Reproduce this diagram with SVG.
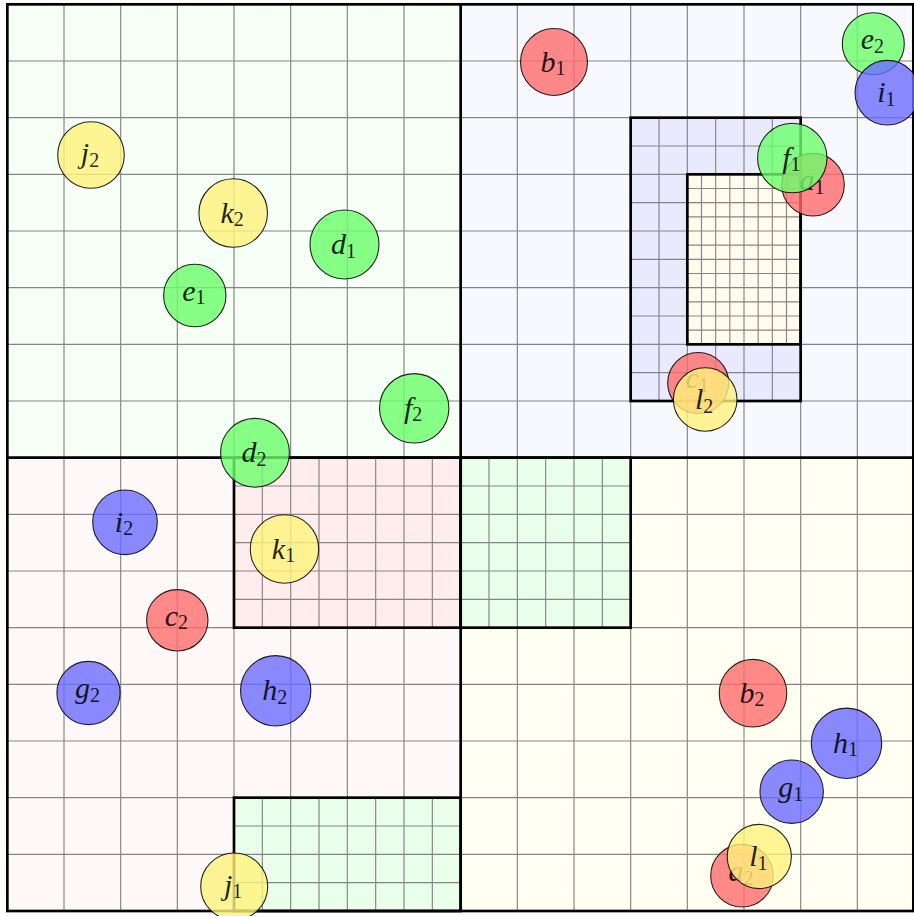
<svg xmlns="http://www.w3.org/2000/svg" width="914" height="916" viewBox="0 0 914 916">
<style>
.grid{fill:none;stroke:#858585;stroke-width:1.15}
.thick{fill:none;stroke:#000;stroke-width:2.7}
.n circle{stroke:#000;stroke-width:1.1;fill-opacity:0.8;stroke-opacity:0.85}
.red circle{fill:#ff6b6b}
.green circle{fill:#6bff6b}
.blue circle{fill:#6b6bff}
.yellow circle{fill:#fff27c}
.n text{font-family:"Liberation Serif","DejaVu Serif",serif;font-size:30px;font-style:italic;fill:#000;opacity:0.85;text-anchor:middle}
.n text .s{font-style:normal;font-size:20px}
</style>
<rect width="914" height="916" fill="#ffffff"/>
<g id="background">
<rect x="7.33" y="4.33" width="453.34" height="453.34" fill="#f6fff6"/>
<rect x="460.67" y="4.33" width="453.33" height="453.34" fill="#f8f8ff"/>
<rect x="7.33" y="457.67" width="453.34" height="453.33" fill="#fff8f8"/>
<rect x="460.67" y="457.67" width="453.33" height="453.33" fill="#fffff2"/>
<rect x="630.67" y="117.67" width="170" height="283.33" fill="#eaeafe"/>
<rect x="687.33" y="174.33" width="113.34" height="170" fill="#fffcee"/>
<rect x="234" y="457.67" width="226.67" height="170" fill="#ffeded"/>
<rect x="460.67" y="457.67" width="170" height="170" fill="#eaffea"/>
<rect x="234" y="797.67" width="226.67" height="113.33" fill="#eaffea"/>
</g>
<g id="grid" class="grid">
<path d="M64 4.33V911M120.67 4.33V911M177.33 4.33V911M234 4.33V911M290.67 4.33V911M347.33 4.33V911M404 4.33V911M517.33 4.33V911M574 4.33V911M630.67 4.33V911M687.33 4.33V911M744 4.33V911M800.67 4.33V911M857.33 4.33V911"/>
<path d="M7.33 61H914M7.33 117.67H914M7.33 174.33H914M7.33 231H914M7.33 287.67H914M7.33 344.33H914M7.33 401H914M7.33 514.33H914M7.33 571H914M7.33 627.67H914M7.33 684.33H914M7.33 741H914M7.33 797.67H914M7.33 854.33H914"/>
<path d="M659 117.67V401M715.67 117.67V401M772.33 117.67V401M630.67 146H800.67M630.67 202.67H800.67M630.67 259.33H800.67M630.67 316H800.67M630.67 372.67H800.67"/>
<path d="M701.5 174.33V344.33M729.83 174.33V344.33M758.17 174.33V344.33M786.5 174.33V344.33M687.33 188.5H800.67M687.33 216.83H800.67M687.33 245.17H800.67M687.33 273.5H800.67M687.33 301.83H800.67M687.33 330.17H800.67"/>
<path d="M262.33 457.67V627.67M319 457.67V627.67M375.67 457.67V627.67M432.33 457.67V627.67M489 457.67V627.67M545.67 457.67V627.67M602.33 457.67V627.67M234 486H630.67M234 542.67H630.67M234 599.33H630.67"/>
<path d="M262.33 797.67V911M319 797.67V911M375.67 797.67V911M432.33 797.67V911M234 826H460.67M234 882.67H460.67"/>
</g>
<g id="frames" class="thick">
<rect x="7.33" y="4.33" width="906" height="906.67"/>
<path d="M460.67 4.33V911M7.33 457.67H914"/>
<rect x="630.67" y="117.67" width="170" height="283.33"/>
<rect x="687.33" y="174.33" width="113.34" height="170"/>
<rect x="234" y="457.67" width="226.67" height="170"/>
<rect x="460.67" y="457.67" width="170" height="170"/>
<rect x="234" y="797.67" width="226.67" height="113.33"/>
</g>
<g id="connectors"></g>
<g id="nodes">
<g id="a1" class="n red"><circle cx="813" cy="184.7" r="31.3"/><text x="812" y="190">a<tspan class="s" dy="3.5">1</tspan></text></g>
<g id="a2" class="n red"><circle cx="742" cy="875.7" r="31.3"/><text x="741" y="881">a<tspan class="s" dy="3.5">2</tspan></text></g>
<g id="b1" class="n red"><circle cx="554" cy="62" r="33.5"/><text x="553" y="71.5">b<tspan class="s" dy="3.5">1</tspan></text></g>
<g id="b2" class="n red"><circle cx="753" cy="693.2" r="33.8"/><text x="752" y="702.7">b<tspan class="s" dy="3.5">2</tspan></text></g>
<g id="c1" class="n red"><circle cx="698.2" cy="383" r="30.5"/><text x="697.2" y="388.3">c<tspan class="s" dy="3.5">1</tspan></text></g>
<g id="c2" class="n red"><circle cx="177.3" cy="620.3" r="30.7"/><text x="176.3" y="625.6">c<tspan class="s" dy="3.5">2</tspan></text></g>
<g id="d1" class="n green"><circle cx="344.5" cy="244.5" r="34.5"/><text x="343.5" y="254">d<tspan class="s" dy="3.5">1</tspan></text></g>
<g id="d2" class="n green"><circle cx="255" cy="452.8" r="34.4"/><text x="254" y="462.3">d<tspan class="s" dy="3.5">2</tspan></text></g>
<g id="e1" class="n green"><circle cx="194.8" cy="295.5" r="31.2"/><text x="193.8" y="300.8">e<tspan class="s" dy="3.5">1</tspan></text></g>
<g id="e2" class="n green"><circle cx="873.3" cy="43.7" r="31"/><text x="872.3" y="49">e<tspan class="s" dy="3.5">2</tspan></text></g>
<g id="f1" class="n green"><circle cx="792.3" cy="158" r="34.7"/><text x="791.3" y="167.5">f<tspan class="s" dy="3.5">1</tspan></text></g>
<g id="f2" class="n green"><circle cx="414.2" cy="408.3" r="34.7"/><text x="413.2" y="417.8">f<tspan class="s" dy="3.5">2</tspan></text></g>
<g id="g1" class="n blue"><circle cx="791.7" cy="791.7" r="31.7"/><text x="790.7" y="797">g<tspan class="s" dy="3.5">1</tspan></text></g>
<g id="g2" class="n blue"><circle cx="88.5" cy="693" r="31.6"/><text x="87.5" y="698.3">g<tspan class="s" dy="3.5">2</tspan></text></g>
<g id="h1" class="n blue"><circle cx="846.5" cy="743.3" r="35.2"/><text x="845.5" y="752.8">h<tspan class="s" dy="3.5">1</tspan></text></g>
<g id="h2" class="n blue"><circle cx="275.7" cy="690.8" r="35.2"/><text x="274.7" y="700.3">h<tspan class="s" dy="3.5">2</tspan></text></g>
<g id="i1" class="n blue"><circle cx="887.3" cy="92.7" r="32.3"/><text x="886.3" y="102.2">i<tspan class="s" dy="3.5">1</tspan></text></g>
<g id="i2" class="n blue"><circle cx="125" cy="522.3" r="32.3"/><text x="124" y="531.8">i<tspan class="s" dy="3.5">2</tspan></text></g>
<g id="j1" class="n yellow"><circle cx="234.2" cy="886.5" r="33.5"/><text x="233.2" y="894.8">j<tspan class="s" dy="3.5">1</tspan></text></g>
<g id="j2" class="n yellow"><circle cx="91" cy="155" r="33.3"/><text x="90" y="163.3">j<tspan class="s" dy="3.5">2</tspan></text></g>
<g id="k1" class="n yellow"><circle cx="284.5" cy="549" r="34.2"/><text x="283.5" y="558.5">k<tspan class="s" dy="3.5">1</tspan></text></g>
<g id="k2" class="n yellow"><circle cx="233.2" cy="213" r="34.3"/><text x="232.2" y="222.5">k<tspan class="s" dy="3.5">2</tspan></text></g>
<g id="l1" class="n yellow"><circle cx="759.3" cy="856.5" r="32.1"/><text x="758.3" y="866">l<tspan class="s" dy="3.5">1</tspan></text></g>
<g id="l2" class="n yellow"><circle cx="705.2" cy="399.5" r="31.8"/><text x="704.2" y="409">l<tspan class="s" dy="3.5">2</tspan></text></g>
</g>
</svg>
